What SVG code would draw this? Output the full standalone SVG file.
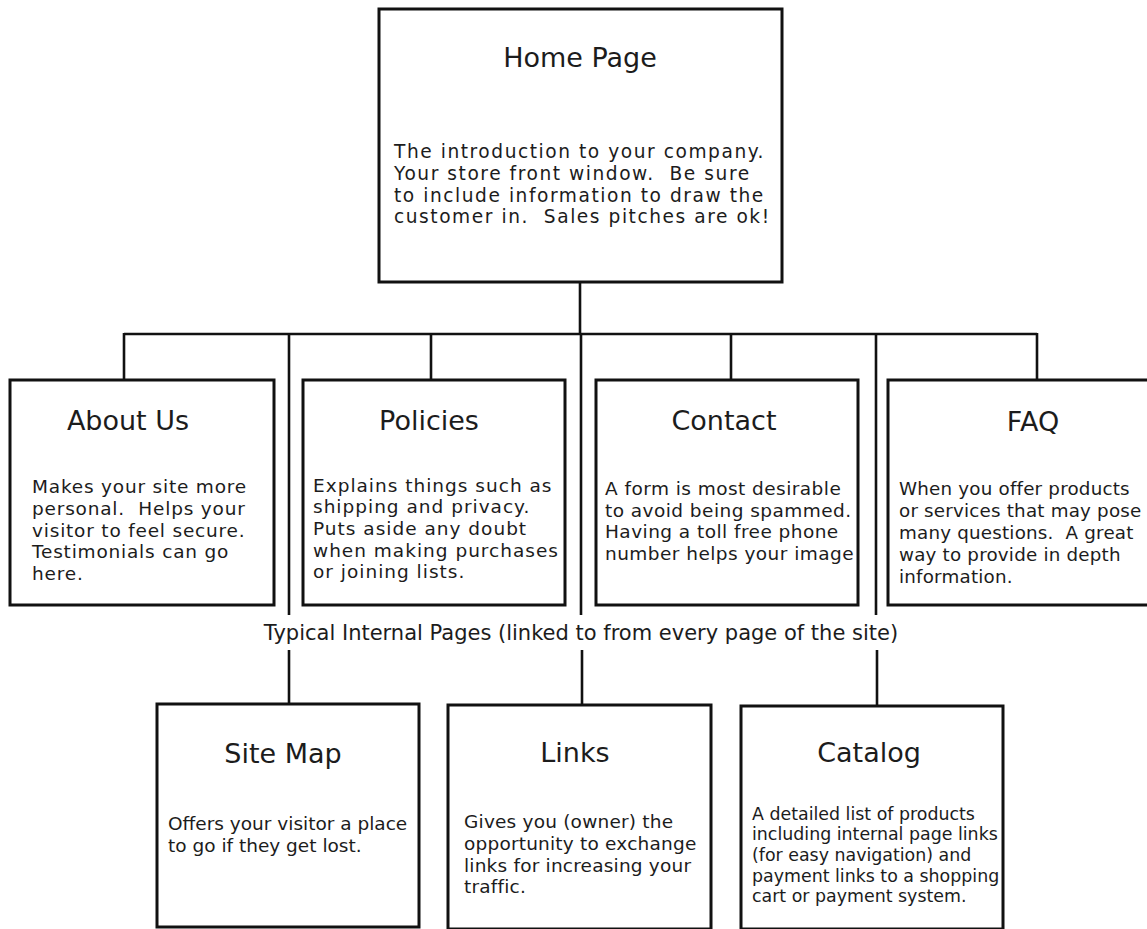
<svg xmlns="http://www.w3.org/2000/svg" width="1147" height="929" viewBox="0 0 1147 929">
<style>
  .box { fill: #ffffff; stroke: #111111; stroke-width: 3; }
  .ln { fill: none; stroke: #111111; stroke-width: 2.6; }
  text { font-family: "DejaVu Sans", sans-serif; fill: #1c1c1c; }
  .title { font-size: 27px; text-anchor: middle; }
  .label { font-size: 21px; text-anchor: middle; }
  .pre { white-space: pre; }
</style>
<rect width="1147" height="929" fill="#ffffff"/>
<g id="connectors">
  <line class="ln" x1="580" y1="282" x2="580" y2="334"/>
  <line class="ln" x1="124" y1="334" x2="1037" y2="334"/>
  <line class="ln" x1="124" y1="333" x2="124" y2="380"/>
  <line class="ln" x1="431" y1="333" x2="431" y2="380"/>
  <line class="ln" x1="731" y1="333" x2="731" y2="380"/>
  <line class="ln" x1="1037" y1="333" x2="1037" y2="380"/>
  <line class="ln" x1="289" y1="334" x2="289" y2="615"/>
  <line class="ln" x1="581" y1="334" x2="581" y2="615"/>
  <line class="ln" x1="876" y1="334" x2="876" y2="615"/>
  <line class="ln" x1="289" y1="650" x2="289" y2="704"/>
  <line class="ln" x1="582" y1="650" x2="582" y2="705"/>
  <line class="ln" x1="877" y1="650" x2="877" y2="706"/>
</g>
<g id="label-internal">
  <text class="label" x="581" y="640">Typical Internal Pages (linked to from every page of the site)</text>
</g>
<g id="home">
  <rect class="box" x="379" y="9" width="403" height="273"/>
  <text class="title" x="580" y="67">Home Page</text>
  <text font-size="18.6" letter-spacing="1.55"><tspan x="394" y="158">The introduction to your company.</tspan><tspan class="pre" xml:space="preserve" x="394" y="180">Your store front window.  Be sure</tspan><tspan x="394" y="202">to include information to draw the</tspan><tspan class="pre" xml:space="preserve" x="394" y="223">customer in.  Sales pitches are ok!</tspan></text>
</g>
<g id="about">
  <rect class="box" x="10" y="380" width="264" height="225"/>
  <text class="title" x="128" y="430">About Us</text>
  <text font-size="18.5" letter-spacing="0.8"><tspan x="32" y="493">Makes your site more</tspan><tspan class="pre" xml:space="preserve" x="32" y="515">personal.  Helps your</tspan><tspan x="32" y="537">visitor to feel secure.</tspan><tspan x="32" y="558">Testimonials can go</tspan><tspan x="32" y="580">here.</tspan></text>
</g>
<g id="policies">
  <rect class="box" x="303" y="380" width="262" height="225"/>
  <text class="title" x="429" y="430">Policies</text>
  <text font-size="18.5" letter-spacing="1"><tspan x="313" y="492">Explains things such as</tspan><tspan x="313" y="513">shipping and privacy.</tspan><tspan x="313" y="535">Puts aside any doubt</tspan><tspan x="313" y="557">when making purchases</tspan><tspan x="313" y="578">or joining lists.</tspan></text>
</g>
<g id="contact">
  <rect class="box" x="596" y="380" width="262" height="225"/>
  <text class="title" x="724" y="430">Contact</text>
  <text font-size="18.5" letter-spacing="0.45"><tspan x="605" y="495">A form is most desirable</tspan><tspan x="605" y="517">to avoid being spammed.</tspan><tspan x="605" y="538">Having a toll free phone</tspan><tspan x="605" y="560">number helps your image</tspan></text>
</g>
<g id="faq">
  <rect class="box" x="888" y="380" width="264" height="225"/>
  <text class="title" x="1033" y="431">FAQ</text>
  <text font-size="18.3" letter-spacing="0.2"><tspan x="899" y="495">When you offer products</tspan><tspan x="899" y="517">or services that may pose</tspan><tspan class="pre" xml:space="preserve" x="899" y="539">many questions.  A great</tspan><tspan x="899" y="561">way to provide in depth</tspan><tspan x="899" y="583">information.</tspan></text>
</g>
<g id="sitemap">
  <rect class="box" x="157" y="704" width="262" height="223"/>
  <text class="title" x="283" y="763">Site Map</text>
  <text font-size="18.5"><tspan x="168" y="830">Offers your visitor a place</tspan><tspan x="168" y="852">to go if they get lost.</tspan></text>
</g>
<g id="links">
  <rect class="box" x="448" y="705" width="263" height="224"/>
  <text class="title" x="575" y="762">Links</text>
  <text font-size="18.5" letter-spacing="0.2"><tspan x="464" y="828">Gives you (owner) the</tspan><tspan x="464" y="850">opportunity to exchange</tspan><tspan x="464" y="872">links for increasing your</tspan><tspan x="464" y="893">traffic.</tspan></text>
</g>
<g id="catalog">
  <rect class="box" x="741" y="706" width="262" height="223"/>
  <text class="title" x="869" y="762">Catalog</text>
  <text font-size="17.4"><tspan x="752" y="820">A detailed list of products</tspan><tspan x="752" y="840">including internal page links</tspan><tspan x="752" y="861">(for easy navigation) and</tspan><tspan x="752" y="882">payment links to a shopping</tspan><tspan x="752" y="902">cart or payment system.</tspan></text>
</g>
</svg>
